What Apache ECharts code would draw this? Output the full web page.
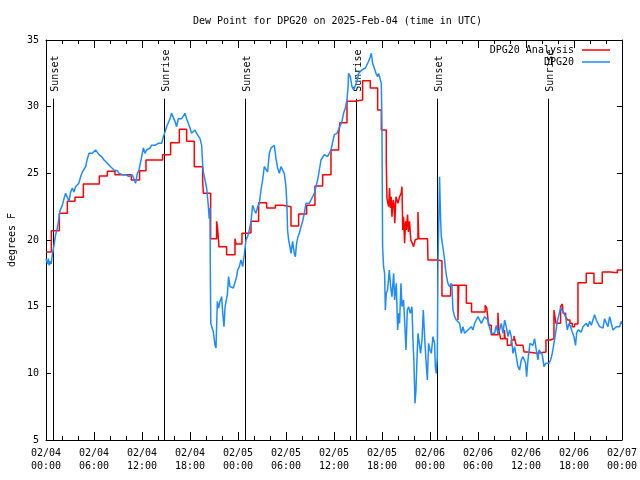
<!DOCTYPE html>
<html>
<head>
<meta charset="utf-8">
<script src="https://cdn.jsdelivr.net/npm/echarts@6/dist/echarts.min.js"></script>
<style>html,body{margin:0;padding:0;background:#fff}#chart{width:640px;height:480px}</style>
</head>
<body>
<div id="chart"></div>
<script>
// Hours since 2025-02-04 00:00 UTC
const xTickDates = ['02/04','02/04','02/04','02/04','02/05','02/05','02/05','02/05','02/06','02/06','02/06','02/06','02/07'];
const xTickTimes = ['00:00','06:00','12:00','18:00','00:00','06:00','12:00','18:00','00:00','06:00','12:00','18:00','00:00'];

const sunHours = [0.92, 14.8, 24.9, 38.7, 48.9, 62.7];
const sunLabels = ['Sunset','Sunrise','Sunset','Sunrise','Sunset','Sunrise'];
const sunLineTop = 30.6;

// DPG20 Analysis (step values)
const anaHours = [0,0.67,1.67,2.67,3.625,4.67,6.67,7.67,8.625,10.67,11.7,12.5,14.58,15.58,16.67,17.58,18.54,19.58,19.67,20.58,21.33,21.45,21.625,22.58,23.625,23.75,24.5,25.2,25.625,26.58,27.58,28.67,29.58,30.625,31.58,32.58,33.625,34.58,35.625,36.58,36.75,37.625,38.58,39.58,40.54,41.46,41.92,42.54,42.625,42.83,42.95,43.05,43.15,43.25,43.4,43.5,43.6,43.75,44.0,44.2,44.4,44.5,44.6,44.7,44.83,44.95,45.05,45.2,45.3,45.45,45.6,45.8,45.95,46.15,46.35,46.5,46.6,47.7,47.75,48.92,49.5,50.58,51.5,51.6,52.55,53.2,54.9,55.1,55.33,55.67,56.5,56.6,56.83,57.3,57.4,57.67,58.17,58.5,58.67,58.8,59.625,59.75,60.17,61.4,62.5,63.08,63.5,63.75,64.33,64.54,64.65,64.96,65.2,65.5,65.79,66.08,66.5,67.54,68.5,69.54,70.58,71.42,72];
const anaDewpt = [19.1,20.7,22.0,22.9,23.2,24.2,24.8,25.15,24.9,24.5,25.2,26.0,26.4,27.3,28.3,27.4,25.5,24.5,23.5,20.1,21.4,20.9,19.5,18.9,20.1,19.7,20.5,20.55,21.4,22.8,22.4,22.6,22.5,21.05,21.95,22.6,24.05,24.9,26.75,27.9,28.8,30.4,30.5,31.95,31.4,29.75,28.25,25.75,23.1,22.5,23.9,22.4,23.25,21.75,23.0,22.75,21.25,23.25,22.75,23.25,23.5,24.0,20.75,21.75,19.75,21.4,20.75,21.9,20.6,21.4,20.0,19.75,19.5,20.0,20.1,22.1,20.1,20.0,18.5,18.45,15.8,16.6,14.0,16.6,15.25,14.6,15.1,14.9,13.6,12.9,14.55,13.3,12.6,13.25,12.6,12.1,12.5,12.8,12.4,12.1,12.25,11.6,11.5,11.6,12.5,12.6,14.75,13.75,15.0,15.2,14.5,14.25,14.0,13.75,13.5,13.7,16.8,17.5,16.75,17.6,17.55,17.75,17.75];

// DPG20 observations
const obsHours = [0,0.08,0.2,0.3,0.4,0.55,0.65,0.79,1.0,1.2,1.42,1.6,1.75,2.04,2.25,2.45,2.67,2.87,3.08,3.29,3.5,3.7,3.9,4.1,4.33,4.54,4.75,4.96,5.17,5.375,5.58,5.79,6.0,6.2,6.42,6.625,6.83,7.04,7.25,7.46,7.67,7.875,8.08,8.29,8.5,8.71,8.92,9.125,9.33,9.54,9.75,9.96,10.17,10.375,10.58,10.79,11.0,11.2,11.42,11.625,11.83,12.04,12.17,12.375,12.58,12.8,13.0,13.2,13.4,13.625,13.83,14.04,14.25,14.46,14.67,14.875,15.08,15.29,15.5,15.7,15.92,16.125,16.33,16.54,16.75,16.96,17.17,17.375,17.58,17.79,18.0,18.2,18.42,18.625,18.83,19.04,19.25,19.46,19.6,19.67,19.875,20.08,20.29,20.4,20.5,20.55,20.6,20.71,20.92,21.125,21.25,21.42,21.58,21.75,21.96,22.08,22.25,22.375,22.5,22.67,22.83,23.0,23.2,23.42,23.625,23.83,23.96,24.17,24.375,24.58,24.79,25.0,25.2,25.42,25.625,25.83,26.04,26.25,26.46,26.67,26.875,27.08,27.29,27.5,27.7,27.92,28.125,28.33,28.54,28.75,28.96,29.17,29.375,29.58,29.79,30.0,30.125,30.2,30.33,30.5,30.625,30.83,31.04,31.17,31.33,31.5,31.67,31.875,32.08,32.29,32.5,32.71,32.92,33.125,33.33,33.54,33.75,33.96,34.17,34.375,34.58,34.79,35.0,35.2,35.42,35.625,35.83,36.04,36.17,36.375,36.58,36.79,37.0,37.2,37.42,37.625,37.75,37.83,38.04,38.25,38.46,38.67,38.875,39.08,39.29,39.5,39.7,39.92,40.125,40.33,40.54,40.67,40.83,41.04,41.25,41.46,41.58,41.79,41.92,42.0,42.08,42.2,42.33,42.42,42.54,42.7,42.92,43.08,43.25,43.46,43.58,43.79,43.96,44.08,44.2,44.375,44.5,44.7,44.83,45.0,45.17,45.33,45.54,45.75,45.875,46.0,46.125,46.25,46.375,46.5,46.67,46.83,47.0,47.17,47.33,47.5,47.67,47.83,48.0,48.17,48.375,48.58,48.67,48.79,48.92,49.0,49.125,49.2,49.33,49.42,49.54,49.67,49.83,49.96,50.08,50.25,50.46,50.67,50.75,50.875,51.08,51.29,51.5,51.7,51.92,52.125,52.33,52.54,52.75,52.96,53.17,53.375,53.58,53.79,54.0,54.2,54.42,54.625,54.83,55.04,55.25,55.46,55.67,55.875,56.08,56.29,56.5,56.7,56.92,57.125,57.33,57.54,57.75,57.96,58.17,58.375,58.58,58.79,59.0,59.2,59.42,59.625,59.83,59.96,60.08,60.25,60.5,60.67,60.875,61.08,61.29,61.5,61.625,61.83,62.04,62.25,62.46,62.67,62.875,63.08,63.29,63.5,63.7,63.92,64.125,64.33,64.54,64.75,64.96,65.17,65.375,65.58,65.79,66.0,66.2,66.33,66.5,66.7,66.92,67.125,67.33,67.54,67.75,67.96,68.17,68.375,68.58,68.79,69.0,69.2,69.42,69.625,69.83,70.04,70.25,70.46,70.67,70.875,71.08,71.29,71.5,71.71,71.92,72.0];
const obsDewpt = [18.6,18.5,18.2,18.6,18.1,18.4,18.2,18.9,19.6,20.4,20.9,21.6,22.2,22.6,23.1,23.5,23.4,22.9,23.6,23.9,23.6,24.0,23.9,24.25,24.75,25.1,25.25,25.5,26.1,26.5,26.4,26.5,26.6,26.75,26.6,26.4,26.25,26.2,26.0,26.1,25.75,25.6,25.5,25.4,25.25,25.1,25.2,25.0,25.1,24.9,25.0,24.9,24.9,24.75,24.9,24.9,24.9,24.25,25.0,25.25,25.4,26.5,26.9,26.5,26.75,26.6,26.9,27.1,27.0,27.1,27.0,27.25,27.4,27.25,27.75,28.1,28.5,28.6,29.1,29.5,29.6,28.9,28.5,29.1,29.0,29.1,29.25,29.5,29.1,29.25,28.4,28.0,28.1,28.25,28.0,28.1,27.6,27.1,25.5,25.1,25.0,23.9,22.6,21.6,22.4,17.1,13.75,13.6,13.1,12.1,11.9,15.4,14.9,15.4,15.75,14.6,13.5,14.9,15.4,15.9,17.25,16.5,16.4,16.4,16.5,17.25,17.75,18.0,18.5,18.0,18.9,20.0,20.25,20.75,21.4,22.6,22.25,22.0,22.5,22.75,23.75,24.5,25.5,25.4,25.1,26.5,26.9,27.0,27.1,26.1,25.4,25.0,25.5,25.5,25.0,24.0,22.5,20.75,20.0,19.5,19.0,19.9,19.0,18.75,19.75,20.25,20.5,21.0,21.4,22.0,22.75,22.9,22.75,23.0,22.9,23.5,24.0,24.5,25.25,26.0,26.1,26.4,26.5,26.25,26.5,26.75,26.9,27.9,28.0,28.0,28.1,28.6,28.9,29.5,29.9,30.5,31.4,32.5,32.25,31.5,31.25,31.4,31.9,32.5,32.4,32.75,32.75,32.9,33.0,33.4,33.75,34.0,33.25,32.9,32.5,32.25,32.5,32.5,31.75,28.25,19.5,18.0,17.5,14.75,16.0,16.25,17.75,16.5,15.75,17.5,15.5,16.75,13.25,14.5,13.75,16.75,15.0,15.5,14.0,11.75,14.75,15.0,14.5,15.0,12.5,10.75,7.75,8.75,11.0,13.0,13.0,11.5,12.5,14.75,12.75,11.0,9.5,12.25,11.75,11.5,12.75,12.25,10.5,10.0,11.25,18.25,22.25,24.75,21.5,20.25,19.75,19.25,18.5,17.75,17.25,16.75,16.5,16.75,16.5,14.75,14.25,14.0,14.1,13.75,13.0,13.5,13.0,13.1,13.25,13.1,13.5,13.25,13.75,14.0,14.25,14.4,13.75,13.6,14.25,14.1,14.0,13.4,13.0,12.9,13.0,13.6,13.0,13.25,13.75,13.0,14.0,13.5,12.75,13.25,12.75,11.5,12.0,11.25,10.5,10.25,11.0,11.25,11.1,10.75,9.75,11.0,12.25,12.4,12.1,12.6,11.75,11.0,11.75,11.6,11.4,10.5,10.75,10.9,10.75,11.0,11.5,12.25,13.0,13.9,13.75,14.9,14.75,14.5,14.25,13.25,13.75,13.5,13.1,12.75,12.1,13.0,13.25,13.4,13.1,13.5,13.6,13.75,13.5,13.9,13.6,13.75,14.4,14.0,13.75,13.5,13.6,13.4,14.1,14.0,13.5,14.25,14.1,13.25,13.4,13.5,13.6,13.5,13.9,13.7];

const FONT = '"DejaVu Sans Mono", "Liberation Mono", monospace';
const zip = (a, b) => a.map((v, i) => [v, b[i]]);

const chart = echarts.init(document.getElementById('chart'), null, {renderer: 'canvas'});

const xBase = {
  type: 'value', min: 0, max: 72, interval: 6,
  axisLine: {show: true, onZero: false, lineStyle: {color: '#000', width: 1}},
  axisTick: {show: true, inside: true, length: 8, lineStyle: {color: '#000'}},
  minorTick: {show: true, splitNumber: 3, length: 4, lineStyle: {color: '#000'}},
  splitLine: {show: false}
};
const yBase = {
  type: 'value', min: 5, max: 35, interval: 5,
  axisLine: {show: true, onZero: false, lineStyle: {color: '#000', width: 1}},
  axisTick: {show: true, inside: true, length: 5, lineStyle: {color: '#000'}},
  splitLine: {show: false}
};

chart.setOption({
  animation: false,
  backgroundColor: '#fff',
  title: {
    text: 'Dew Point for DPG20 on 2025-Feb-04 (time in UTC)',
    left: 188, top: 11,
    textStyle: {fontFamily: FONT, fontSize: 10, fontWeight: 'normal', color: '#000'}
  },
  legend: [
    {data: ['DPG20 Analysis'], right: 30, top: 45, padding: 0, align: 'right', orient: 'vertical',
     icon: 'rect', itemWidth: 28, itemHeight: 1.5,
     textStyle: {fontFamily: FONT, fontSize: 10, color: '#000', padding: [0, 3, 0, 0]}},
    {data: ['DPG20'], right: 30, top: 57, padding: 0, align: 'right', orient: 'vertical',
     icon: 'rect', itemWidth: 28, itemHeight: 1.5,
     textStyle: {fontFamily: FONT, fontSize: 10, color: '#000', padding: [0, 3, 0, 0]}}
  ],
  grid: {left: 46, right: 18, top: 40, bottom: 40, containLabel: false},
  xAxis: [
    Object.assign({}, xBase, {
      position: 'bottom',
      axisLabel: {
        show: true, margin: 7, color: '#000', fontFamily: FONT, fontSize: 10, lineHeight: 13,
        formatter: (v) => { const i = Math.round(v / 6); return xTickDates[i] + '\n' + xTickTimes[i]; }
      }
    }),
    Object.assign({}, xBase, {position: 'top', axisLabel: {show: false}})
  ],
  yAxis: [
    Object.assign({}, yBase, {
      position: 'left',
      axisLabel: {show: true, margin: 7, color: '#000', fontFamily: FONT, fontSize: 10}
    }),
    Object.assign({}, yBase, {position: 'right', axisLabel: {show: false}})
  ],
  graphic: [{
    type: 'text', x: 12, y: 240, rotation: Math.PI / 2,
    style: {text: 'degrees F', font: '10px ' + FONT, fill: '#000', textAlign: 'center', textVerticalAlign: 'middle'}
  }],
  series: [
    {
      type: 'custom', name: 'sun', z: 1, silent: true,
      data: sunHours.map((h, i) => [h, i]),
      renderItem: (params, api) => {
        const h = api.value(0);
        const label = sunLabels[api.value(1)];
        const p0 = api.coord([h, 5]);
        const p1 = api.coord([h, sunLineTop]);
        const x = Math.round(p0[0]) + 0.5;
        return {
          type: 'group',
          children: [
            {type: 'line', shape: {x1: x, y1: p0[1], x2: x, y2: p1[1]}, style: {stroke: '#000', lineWidth: 1}},
            {type: 'text', x: x + 1.5, y: p1[1] - 7, rotation: Math.PI / 2,
             style: {text: label, x: 0, y: 0, textAlign: 'left', textVerticalAlign: 'middle', fill: '#000', font: '10px ' + FONT}}
          ]
        };
      }
    },
    {
      type: 'line', name: 'DPG20 Analysis', step: 'end', z: 2,
      data: zip(anaHours, anaDewpt), showSymbol: false, symbol: 'none',
      lineStyle: {color: '#ff0000', width: 1.5}, itemStyle: {color: '#ff0000'}
    },
    {
      type: 'line', name: 'DPG20', z: 3,
      data: zip(obsHours, obsDewpt), showSymbol: false, symbol: 'none',
      lineStyle: {color: '#1e8cff', width: 1.5}, itemStyle: {color: '#1e8cff'}
    }
  ]
});
</script>
</body>
</html>
